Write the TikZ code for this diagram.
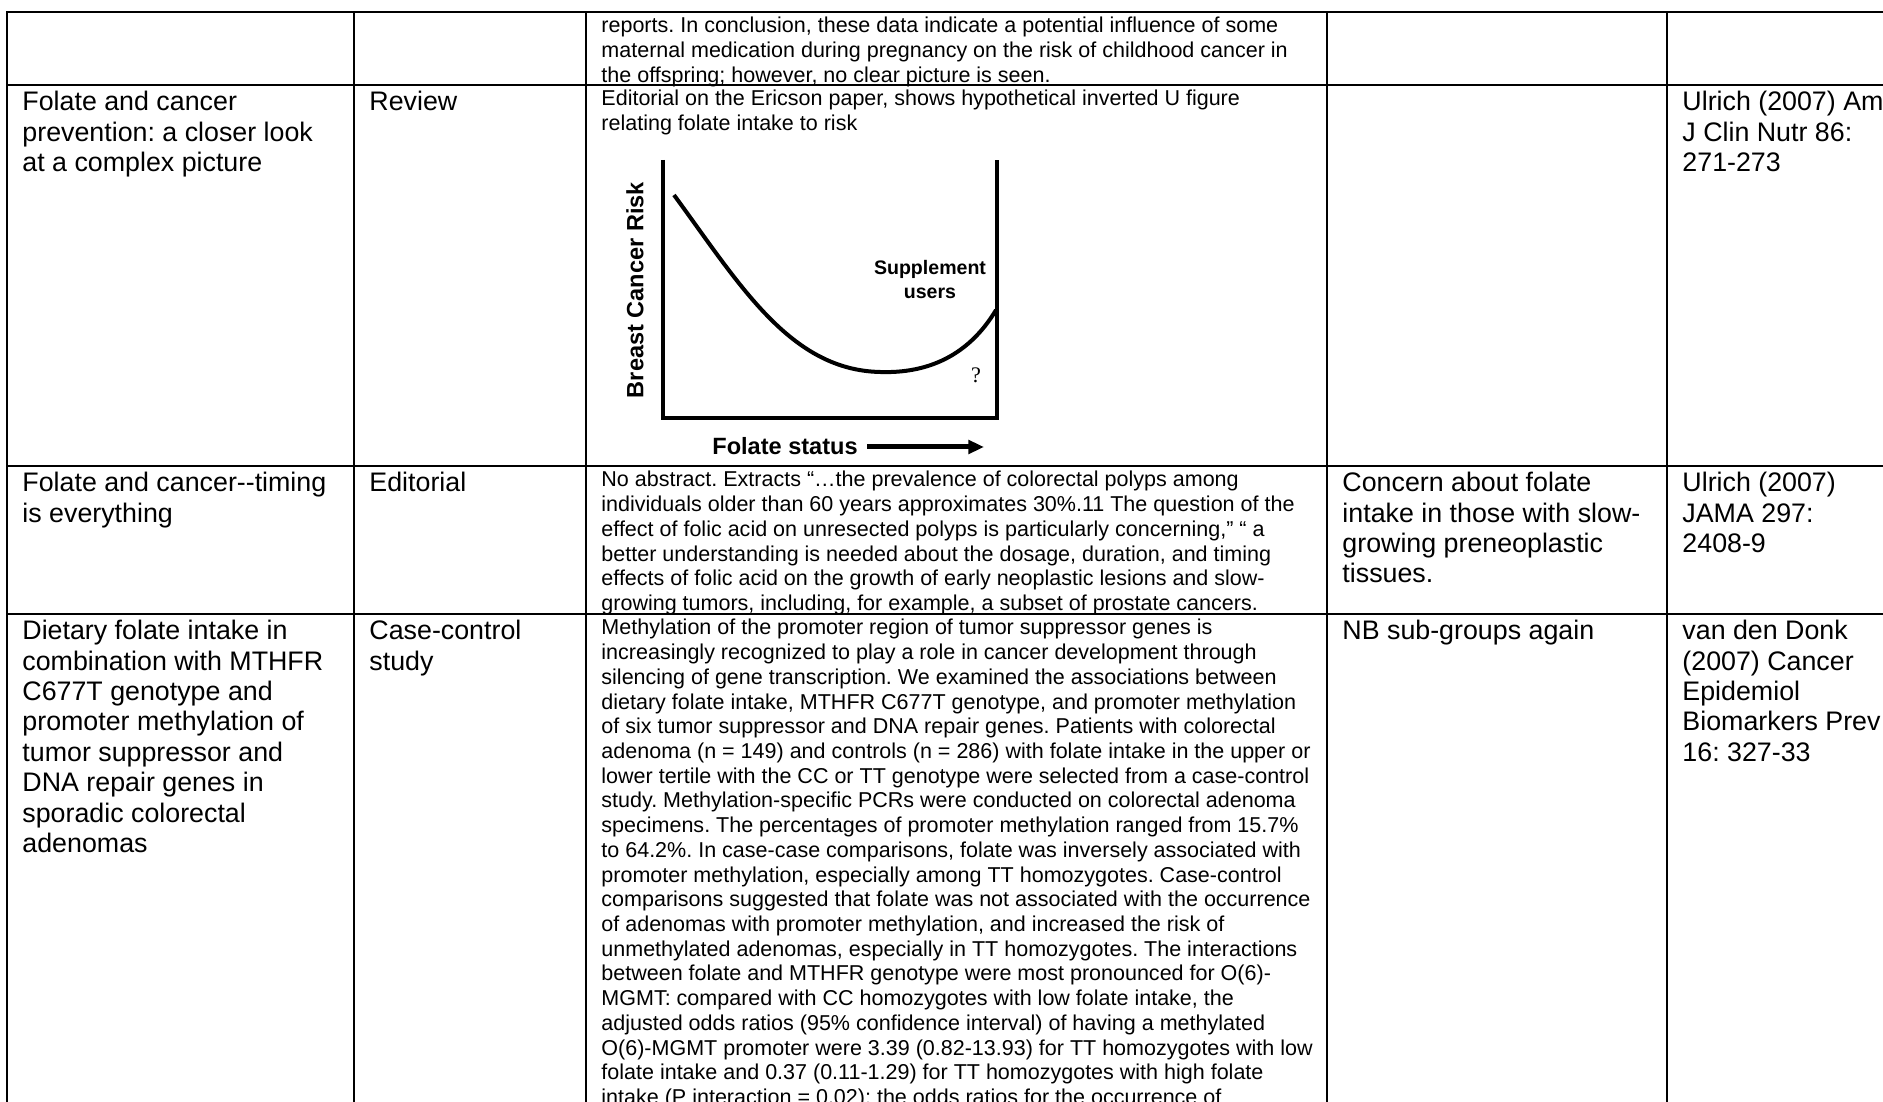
\documentclass[tikz,border=0pt]{standalone}
\usepackage{fontspec}
\setmainfont{Liberation Sans}
\newfontfamily\qfont{Liberation Serif}
\usetikzlibrary{arrows.meta}
\frenchspacing
\newcommand{\tstrut}{\rule{0pt}{0.905em}}
\tikzset{
  tbl/.style={line width=0.9pt, line cap=rect, black},
  bigtxt/.style={anchor=north west, inner sep=0pt, align=left,
                 font=\fontsize{12.06}{13.68}\selectfont},
  smtxt/.style={anchor=north west, inner sep=0pt, align=left,
                font=\fontsize{9.68}{11.12}\selectfont},
  axl/.style={line width=1.8pt, line join=miter},
  crv/.style={line width=1.8pt},
  flab/.style={inner sep=0pt, font=\bfseries\fontsize{10.6}{12}\selectfont},
  slab/.style={inner sep=0pt, align=center, font=\bfseries\fontsize{8.8}{10.8}\selectfont},
  farr/.style={line width=2.25pt, -{Triangle[length=7pt,width=6pt]}},
}

\begin{document}
\begin{tikzpicture}[x=0.45pt, y=-0.45pt]
  \useasboundingbox (0,0) rectangle (1883,1102);
  \clip (0,0) rectangle (1883,1102);
  % table rules
  \foreach \ry in {12,85,466,614} \draw[tbl] (7,\ry) -- (1883,\ry);
  \foreach \cx in {7,354,586,1327,1667} \draw[tbl] (\cx,12) -- (\cx,1102);

  % row 1 (continued)
  \node[smtxt] (r1abs) at (601,13) {\tstrut reports. In conclusion, these data indicate a potential influence of some\\
    maternal medication during pregnancy on the risk of childhood cancer in\\
    the offspring; however, no clear picture is seen.};

  % row 2
  \node[bigtxt] (r2title) at (22,86) {\tstrut Folate and cancer\\prevention: a closer look\\at a complex picture};
  \node[bigtxt] (r2type) at (369,86) {\tstrut Review};
  \node[smtxt] (r2abs) at (601,86) {\tstrut Editorial on the Ericson paper, shows hypothetical inverted U figure\\
    relating folate intake to risk};
  \node[bigtxt] (r2ref) at (1682,86) {\tstrut Ulrich (2007) Am\\J Clin Nutr 86:\\271-273};

  % folate figure
  \draw[axl] (663,160) -- (663,418) -- (997,418) -- (997,160);
  \draw[crv] (674,195) .. controls (740,285) and (790,370) .. (880,372)
    .. controls (940,374) and (975,345) .. (996,310);
  \node[slab] (supp) at (930,280) {Supplement\\users};
  \node[inner sep=0pt, font=\qfont\fontsize{10}{12}\selectfont] (qmark) at (976,375) {?};
  \node[flab, rotate=90] (ylab) at (635,290) {Breast Cancer Risk};
  \node[flab, anchor=base] (xlab) at (785,455) {Folate status};
  \coordinate (arrend) at (984,447);
  \draw[farr] (xlab.east |- arrend) ++(9,0) -- (arrend);

  % row 3
  \node[bigtxt] (r3title) at (22,467) {\tstrut Folate and cancer-{}-timing\\is everything};
  \node[bigtxt] (r3type) at (369,467) {\tstrut Editorial};
  \node[smtxt] (r3abs) at (601,467) {\tstrut No abstract. Extracts “…the prevalence of colorectal polyps among\\
    individuals older than 60 years approximates 30\%.11 The question of the\\
    effect of folic acid on unresected polyps is particularly concerning,” “ a\\
    better understanding is needed about the dosage, duration, and timing\\
    effects of folic acid on the growth of early neoplastic lesions and slow-\\
    growing tumors, including, for example, a subset of prostate cancers.};
  \node[bigtxt] (r3note) at (1342,467) {\tstrut Concern about folate\\intake in those with slow-\\growing preneoplastic\\tissues.};
  \node[bigtxt] (r3ref) at (1682,467) {\tstrut Ulrich (2007)\\JAMA 297:\\2408-9};

  % row 4
  \node[bigtxt] (r4title) at (22,615) {\tstrut Dietary folate intake in\\combination with MTHFR\\C677T genotype and\\
    promoter methylation of\\tumor suppressor and\\DNA repair genes in\\sporadic colorectal\\adenomas};
  \node[bigtxt] (r4type) at (369,615) {\tstrut Case-control\\study};
  \node[smtxt] (r4abs) at (601,615) {\tstrut Methylation of the promoter region of tumor suppressor genes is\\
    increasingly recognized to play a role in cancer development through\\
    silencing of gene transcription. We examined the associations between\\
    dietary folate intake, MTHFR C677T genotype, and promoter methylation\\
    of six tumor suppressor and DNA repair genes. Patients with colorectal\\
    adenoma (n = 149) and controls (n = 286) with folate intake in the upper or\\
    lower tertile with the CC or TT genotype were selected from a case-control\\
    study. Methylation-specific PCRs were conducted on colorectal adenoma\\
    specimens. The percentages of promoter methylation ranged from 15.7\%\\
    to 64.2\%. In case-case comparisons, folate was inversely associated with\\
    promoter methylation, especially among TT homozygotes. Case-control\\
    comparisons suggested that folate was not associated with the occurrence\\
    of adenomas with promoter methylation, and increased the risk of\\
    unmethylated adenomas, especially in TT homozygotes. The interactions\\
    between folate and MTHFR genotype were most pronounced for O(6)-\\
    MGMT: compared with CC homozygotes with low folate intake, the\\
    adjusted odds ratios (95\% confidence interval) of having a methylated\\
    O(6)-MGMT promoter were 3.39 (0.82-13.93) for TT homozygotes with low\\
    folate intake and 0.37 (0.11-1.29) for TT homozygotes with high folate\\
    intake (P interaction = 0.02); the odds ratios for the occurrence of};
  \node[bigtxt] (r4note) at (1342,615) {\tstrut NB sub-groups again};
  \node[bigtxt] (r4ref) at (1682,615) {\tstrut van den Donk\\(2007) Cancer\\Epidemiol\\Biomarkers Prev\\16: 327-33};
\end{tikzpicture}
\end{document}
